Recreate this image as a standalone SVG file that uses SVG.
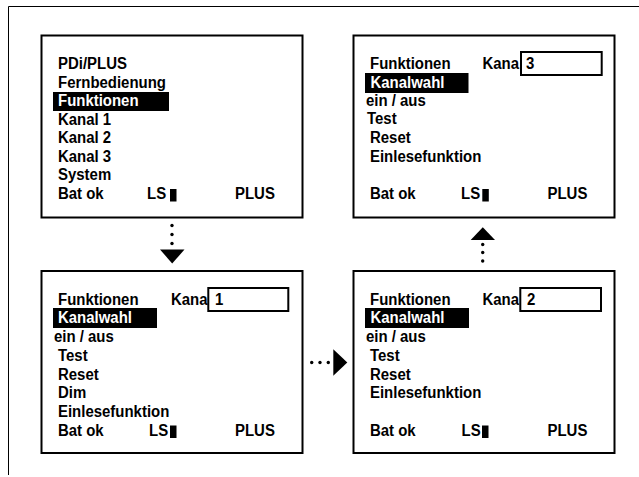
<svg xmlns="http://www.w3.org/2000/svg" width="639" height="477" viewBox="0 0 639 477">
<style>
text{font-family:"Liberation Sans",Arial,sans-serif;font-weight:bold;font-size:17px;fill:#000}
.inv{fill:#fff}
.box{fill:#fff;stroke:#000;stroke-width:2}
.val{fill:none;stroke:#000;stroke-width:2}
.hl{fill:#000}
.frame{fill:none;stroke:#000;stroke-width:1}
.dot{fill:#000}
</style>
<rect width="639" height="477" fill="#fff"/>
<path class="frame" d="M8.5 475V6.5H639"/>

<g id="screen-main">
<rect class="box" x="41.5" y="35.5" width="261" height="182"/>
<text transform="translate(58,69) scale(.88,1)">PDi/PLUS</text>
<text transform="translate(58,87.5) scale(.88,1)">Fernbedienung</text>
<rect class="hl" x="53" y="92" width="116" height="19"/>
<text class="inv" transform="translate(58,106) scale(.88,1)">Funktionen</text>
<text transform="translate(58,124.5) scale(.88,1)">Kanal 1</text>
<text transform="translate(58,143) scale(.88,1)">Kanal 2</text>
<text transform="translate(58,161.5) scale(.88,1)">Kanal 3</text>
<text transform="translate(58,180) scale(.88,1)">System</text>
<text transform="translate(58,199) scale(.88,1)">Bat ok</text>
<text transform="translate(147,199) scale(.88,1)">LS</text>
<rect class="hl" x="170" y="189" width="6.5" height="12.5"/>
<text transform="translate(235,199) scale(.88,1)">PLUS</text>
</g>

<g id="screen-kanal1">
<rect class="box" x="41.5" y="271" width="261" height="182"/>
<text transform="translate(58,305) scale(.88,1)">Funktionen</text>
<text transform="translate(171,305) scale(.88,1)">Kana</text>
<rect class="val" x="208.3" y="288" width="80" height="23"/>
<text transform="translate(215,305) scale(.88,1)">1</text>
<rect class="hl" x="53" y="308" width="104" height="20"/>
<text class="inv" transform="translate(58,323) scale(.88,1)">Kanalwahl</text>
<text transform="translate(54,342) scale(.88,1)">ein / aus</text>
<text transform="translate(58,360.5) scale(.88,1)">Test</text>
<text transform="translate(58,379.5) scale(.88,1)">Reset</text>
<text transform="translate(58,398) scale(.88,1)">Dim</text>
<text transform="translate(58,417) scale(.88,1)">Einlesefunktion</text>
<text transform="translate(58,436) scale(.88,1)">Bat ok</text>
<text transform="translate(149,436) scale(.88,1)">LS</text>
<rect class="hl" x="170" y="425.5" width="6.5" height="12.5"/>
<text transform="translate(235,436) scale(.88,1)">PLUS</text>
</g>

<g id="screen-kanal2">
<rect class="box" x="353.5" y="271" width="261" height="182"/>
<text transform="translate(370,305) scale(.88,1)">Funktionen</text>
<text transform="translate(482.5,305) scale(.88,1)">Kana</text>
<rect class="val" x="520.3" y="288" width="80.7" height="23"/>
<text transform="translate(527,305) scale(.88,1)">2</text>
<rect class="hl" x="365" y="308" width="104" height="20"/>
<text class="inv" transform="translate(370.5,323) scale(.88,1)">Kanalwahl</text>
<text transform="translate(366,342) scale(.88,1)">ein / aus</text>
<text transform="translate(370,360.5) scale(.88,1)">Test</text>
<text transform="translate(370,379.5) scale(.88,1)">Reset</text>
<text transform="translate(370,398) scale(.88,1)">Einlesefunktion</text>
<text transform="translate(370,436) scale(.88,1)">Bat ok</text>
<text transform="translate(461.5,436) scale(.88,1)">LS</text>
<rect class="hl" x="482" y="425.5" width="6.5" height="12.5"/>
<text transform="translate(547.5,436) scale(.88,1)">PLUS</text>
</g>

<g id="screen-kanal3">
<rect class="box" x="353.5" y="35.5" width="261" height="182"/>
<text transform="translate(370,68.5) scale(.88,1)">Funktionen</text>
<text transform="translate(482.5,68.5) scale(.88,1)">Kana</text>
<rect class="val" x="521" y="52" width="80.7" height="23"/>
<text transform="translate(526,68.5) scale(.88,1)">3</text>
<rect class="hl" x="365" y="73" width="103.5" height="20"/>
<text class="inv" transform="translate(370.5,87.5) scale(.88,1)">Kanalwahl</text>
<text transform="translate(366,106) scale(.88,1)">ein / aus</text>
<text transform="translate(367,123.5) scale(.88,1)">Test</text>
<text transform="translate(370,143) scale(.88,1)">Reset</text>
<text transform="translate(370,161.5) scale(.88,1)">Einlesefunktion</text>
<text transform="translate(370,199) scale(.88,1)">Bat ok</text>
<text transform="translate(461,199) scale(.88,1)">LS</text>
<rect class="hl" x="482.3" y="189" width="6.5" height="12.5"/>
<text transform="translate(547.5,199) scale(.88,1)">PLUS</text>
</g>

<g id="connectors">
<g id="main-to-kanal1">
<circle class="dot" cx="172" cy="225.5" r="1.7"/>
<circle class="dot" cx="172" cy="234.5" r="1.7"/>
<circle class="dot" cx="172" cy="243.5" r="1.7"/>
<polygon class="dot" points="160,249.5 184.5,249.5 172.2,263.5"/>
</g>
<g id="kanal1-to-kanal2">
<circle class="dot" cx="311.7" cy="362.5" r="1.7"/>
<circle class="dot" cx="320" cy="362.5" r="1.7"/>
<circle class="dot" cx="328.3" cy="362.5" r="1.7"/>
<polygon class="dot" points="333.3,349.3 333.3,375.7 347.3,362.5"/>
</g>
<g id="kanal2-to-kanal3">
<circle class="dot" cx="482.7" cy="244.5" r="1.7"/>
<circle class="dot" cx="482.7" cy="252.5" r="1.7"/>
<circle class="dot" cx="482.7" cy="261" r="1.7"/>
<polygon class="dot" points="470.7,240 495,240 482.8,227.3"/>
</g>
</g>
</svg>
